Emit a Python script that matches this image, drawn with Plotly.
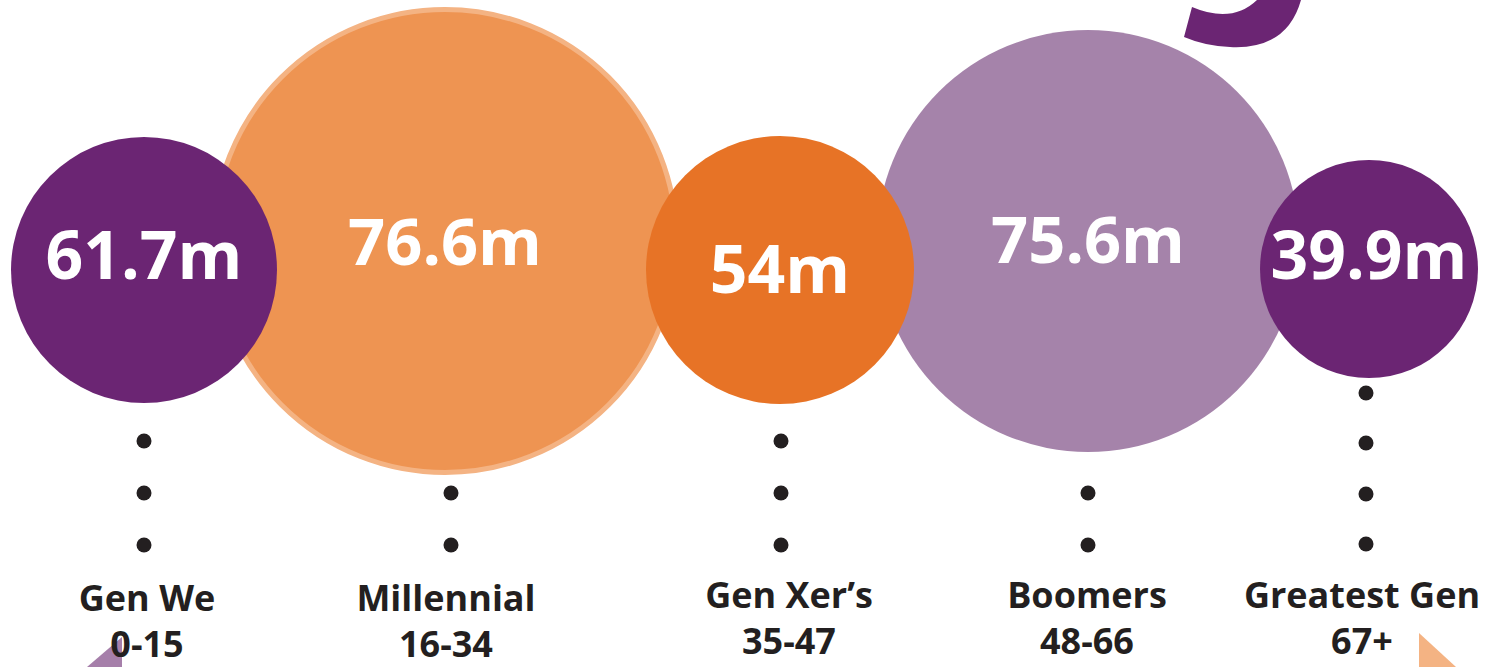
import plotly.graph_objects as go

# ---- data ----
generations = ["Gen We", "Millennial", "Gen Xer’s", "Boomers", "Greatest Gen"]
age_ranges = ["0-15", "16-34", "35-47", "48-66", "67+"]
population_m = [61.7, 76.6, 54, 75.6, 39.9]
value_labels = ["61.7m", "76.6m", "54m", "75.6m", "39.9m"]

# ---- layout (pixel-like data coordinates) ----
W, H = 1494, 667
bubble_x = [144, 445, 780, 1088, 1369]
bubble_y = [270, 241, 270, 241, 269]
bubble_r = [133, 234, 134, 211, 109]
bubble_fill = ["#6B2573", "#EE9452", "#E77326", "#A583AA", "#6B2573"]
bubble_edge = ["#6B2573", "#F4B383", "#E77326", "#A583AA", "#6B2573"]
edge_w = [0, 5, 0, 0, 0]
draw_order = [1, 3, 0, 2, 4]

value_y = [262, 249, 276, 247, 262]
value_size = [66, 65, 66, 65, 66]
label_x = [147, 446, 789, 1087, 1362]
label_y = [625, 625, 622, 622, 622]
dot_x = [144, 451, 781, 1088, 1366]
dot_rows = [[441, 493, 545], [493, 545], [441, 493, 545], [493, 545], [393, 443, 494, 544]]

fig = go.Figure()

# decorative shapes
fig.add_shape(type="path", path="M 1192 7 Q 1232 24 1257 0 L 1301 0 Q 1287 50 1230 47 Q 1205 46 1184 37 Z",
              fillcolor="#6B2573", line=dict(width=0), layer="below")
fig.add_shape(type="path", path="M 87 667 L 122 637 L 122 667 Z",
              fillcolor="#A67FAA", line=dict(width=0), layer="below")
fig.add_shape(type="path", path="M 1419 633 L 1419 667 L 1456 667 Z",
              fillcolor="#F4B383", line=dict(width=0), layer="below")

# bubbles
for i in draw_order:
    fig.add_trace(go.Scatter(
        x=[bubble_x[i]], y=[bubble_y[i]], mode="markers",
        marker=dict(size=2 * bubble_r[i] - edge_w[i], color=bubble_fill[i],
                    line=dict(color=bubble_edge[i], width=edge_w[i]), opacity=1),
        hoverinfo="skip", showlegend=False))

# dots
dx, dy = [], []
for x, rows in zip(dot_x, dot_rows):
    for y in rows:
        dx.append(x)
        dy.append(y)
fig.add_trace(go.Scatter(x=dx, y=dy, mode="markers",
                         marker=dict(size=15, color="#231F20"),
                         hoverinfo="skip", showlegend=False))

# values inside bubbles
for i in range(len(generations)):
    fig.add_trace(go.Scatter(
        x=[bubble_x[i]], y=[value_y[i]], mode="text", text=[value_labels[i]],
        textposition="middle center",
        textfont=dict(family="Open Sans", size=value_size[i], color="white", weight=700),
        hoverinfo="skip", showlegend=False))

# labels
fig.add_trace(go.Scatter(
    x=label_x, y=label_y, mode="text",
    text=[f"{g}<br>{a}" for g, a in zip(generations, age_ranges)],
    textposition="middle center",
    textfont=dict(family="Open Sans", size=36, color="#231F20", weight=700),
    hoverinfo="skip", showlegend=False))

fig.update_xaxes(range=[0, W], visible=False, fixedrange=True)
fig.update_yaxes(range=[H, 0], visible=False, fixedrange=True)
fig.update_layout(width=W, height=H, margin=dict(l=0, r=0, t=0, b=0),
                  paper_bgcolor="white", plot_bgcolor="white", showlegend=False)

fig.write_html("out.html", config={"displayModeBar": False},
               post_script="document.body.style.margin='0';document.body.style.overflow='hidden';")
